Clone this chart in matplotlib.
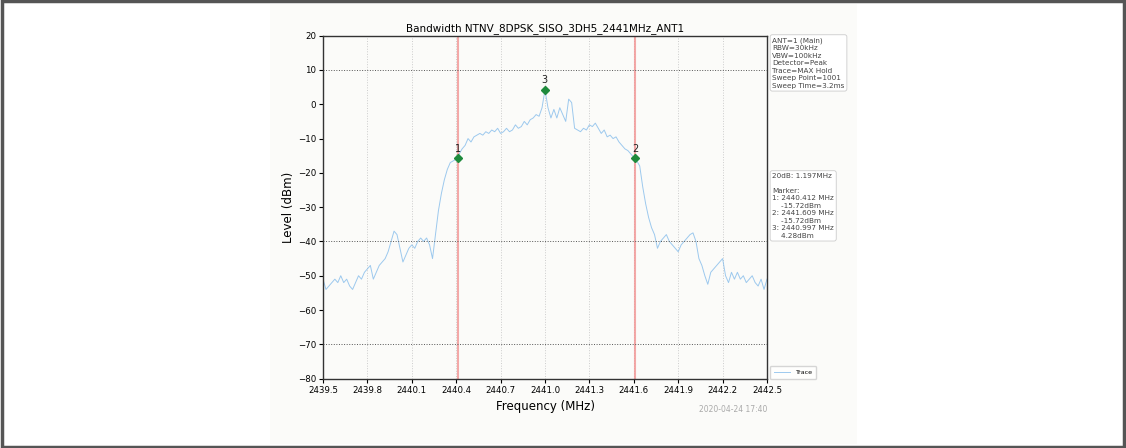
import numpy as np
import matplotlib
matplotlib.use("Agg")
import matplotlib.pyplot as plt
from matplotlib.patches import Rectangle

# swept spectrum, 0.02 MHz steps from 2439.50 to 2442.50
freq_start = 2439.5
freq_step = 0.02
level = [
    -51, -54, -53, -52, -51, -52, -50, -52, -51, -53,    # 2439.50
    -54, -52, -50, -51, -49, -48, -47, -51, -49, -47,    # 2439.70
    -46, -45, -43, -40, -37, -38, -42, -46, -44, -42,    # 2439.90
    -41, -42, -40, -39, -40, -39, -41, -45, -38, -31,    # 2440.10
    -26, -22, -19, -17, -16.5, -16, -14.5, -13, -12, -10,  # 2440.30
    -11, -9.5, -9, -8.5, -9, -8, -8.5, -7.5, -8, -7,     # 2440.50
    -8.5, -8, -7, -8, -7.5, -6, -7, -6.5, -5, -6,        # 2440.70
    -4.5, -4, -3, -3.5, -1, 4.3, -1, -4, -1.5, -4,       # 2440.90
    -1, -3, -5, 1.5, 0.5, -7, -7.5, -8, -7, -7.5,        # 2441.10
    -6, -6.5, -5.5, -7, -8.5, -7.5, -9.5, -9, -10, -9.5, # 2441.30
    -11, -12, -13, -13.5, -14.5, -15.5, -16.5, -18, -24, -29,  # 2441.50
    -33, -36, -38, -42, -40, -39, -38, -40, -41, -42,    # 2441.70
    -43, -41, -40, -39, -38, -37.5, -40, -45, -47, -50,  # 2441.90
    -52.5, -49, -48, -47, -46, -45, -50, -52, -49, -51,  # 2442.10
    -49, -51, -50, -52, -51, -50, -52, -53, -51, -54,    # 2442.30
    -51,                                                 # 2442.50
]

# markers (frequency MHz, level dBm)
marker_ids = ["1", "2", "3"]
marker_freq = [2440.412, 2441.609, 2440.997]
marker_level = [-15.72, -15.72, 4.28]

x_ticks = [2439.5, 2439.8, 2440.1, 2440.4, 2440.7, 2441.0, 2441.3, 2441.6, 2441.9, 2442.2, 2442.5]
y_ticks = [20, 10, 0, -10, -20, -30, -40, -50, -60, -70, -80]
ref_lines = [10, -40, -70]

setup_text = "\n".join([
    "ANT=1 (Main)",
    "RBW=30kHz",
    "VBW=100kHz",
    "Detector=Peak",
    "Trace=MAX Hold",
    "Sweep Point=1001",
    "Sweep Time=3.2ms",
])

bw_text = "20dB: %.3fMHz\n\nMarker:\n" % (marker_freq[1] - marker_freq[0])
bw_text += "\n".join("%s: %.3f MHz\n    %.2fdBm" % (m, f, l)
                     for m, f, l in zip(marker_ids, marker_freq, marker_level))

freq = freq_start + freq_step * np.arange(len(level))

fig = plt.figure(figsize=(11.26, 4.48), dpi=100)
fig.patch.set_facecolor("white")

# page frame and the plot panel behind the axes
fig.add_artist(Rectangle((0.0015, 0.003), 0.997, 0.994, transform=fig.transFigure,
                         fill=False, edgecolor="#555555", linewidth=2.5))
fig.add_artist(Rectangle((270 / 1126, 4 / 448), 587 / 1126, 440 / 448,
                         transform=fig.transFigure, facecolor="#fbfbf9",
                         edgecolor="none", zorder=0))

ax = fig.add_axes([323 / 1126, 69.4 / 448, 444 / 1126, 342.9 / 448])
ax.set_facecolor("#fbfbf9")

ax.plot(freq, level, color="#7db8ea", linewidth=0.7, alpha=0.75, label="Trace")

for f in marker_freq[:2]:
    ax.axvline(f, color="#f29393", linewidth=1.5, alpha=0.8)
for y in ref_lines:
    ax.axhline(y, color="#555555", linestyle=":", linewidth=0.7)
for x in x_ticks[1:-1]:
    ax.axvline(x, color="#cccccc", linestyle=":", linewidth=0.7, zorder=0)

ax.plot(marker_freq, marker_level, linestyle="none", marker="D", markersize=4.5,
        color="#1e8a3c")
for m, f, l in zip(marker_ids, marker_freq, marker_level):
    ax.text(f, l + 1.3, m, ha="center", va="bottom", fontsize=7, color="#222222")

ax.set_xlim(2439.5, 2442.5)
ax.set_ylim(-80, 20)
ax.set_xticks(x_ticks)
ax.set_xticklabels(["%.1f" % x for x in x_ticks])
ax.set_yticks(y_ticks)
ax.tick_params(labelsize=6.2, length=3, width=0.8, pad=2)
for s in ax.spines.values():
    s.set_linewidth(1.0)
    s.set_color("#333333")

ax.set_title("Bandwidth NTNV_8DPSK_SISO_3DH5_2441MHz_ANT1", fontsize=7.5, pad=3)
ax.set_xlabel("Frequency (MHz)", fontsize=8.5, labelpad=4)
ax.set_ylabel("Level (dBm)", fontsize=8.5, labelpad=2)

box = dict(boxstyle="round,pad=0.3", facecolor="white", edgecolor="#cccccc", linewidth=0.6)
ax.text(1.012, 0.995, setup_text, transform=ax.transAxes, ha="left", va="top",
        fontsize=5.2, color="#444444", linespacing=1.3, bbox=box)
ax.text(1.012, 0.60, bw_text, transform=ax.transAxes, ha="left", va="top",
        fontsize=5.2, color="#444444", linespacing=1.3, bbox=box)

ax.legend(loc="lower left", bbox_to_anchor=(1.0, -0.01), fontsize=4.6,
          frameon=True, edgecolor="#cccccc", handlelength=2.5, borderpad=0.6)

fig.text(767 / 1126, 1 - 409 / 448, "2020-04-24 17:40", ha="right", va="center",
         fontsize=5.5, color="#aaaaaa")

fig.savefig("out.png", dpi=100, facecolor=fig.get_facecolor())
